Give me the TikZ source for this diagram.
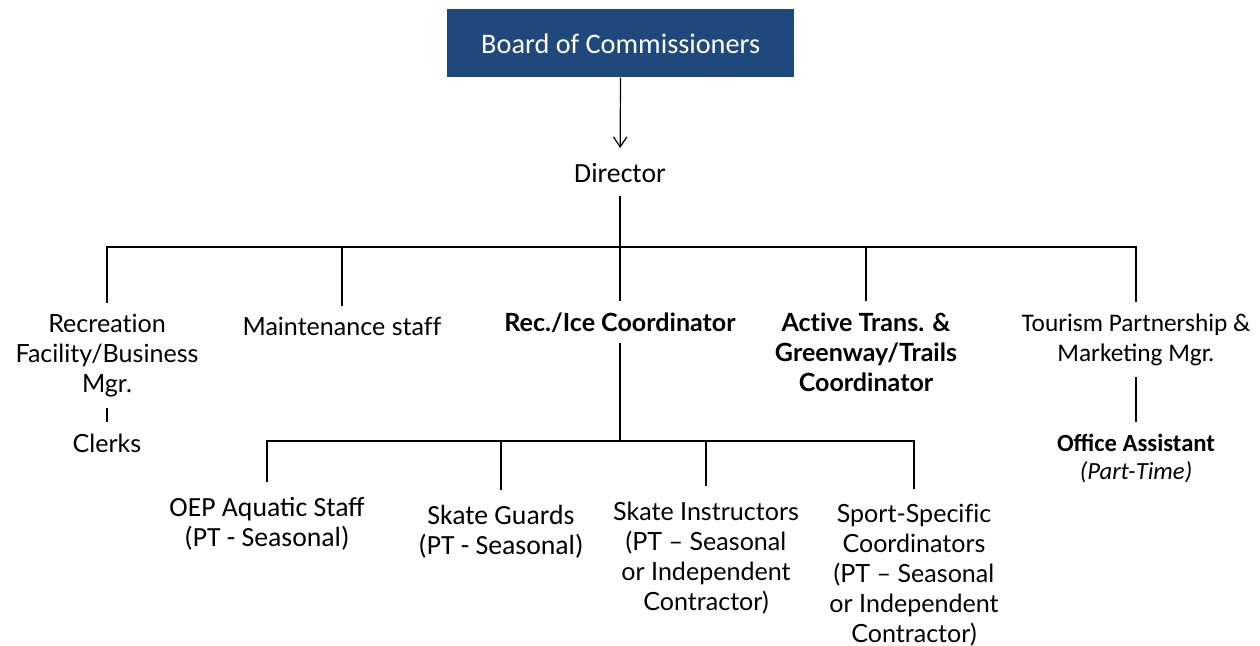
\documentclass[tikz,border=0pt]{standalone}
\usepackage{fontspec}
\setmainfont{Carlito}
\newfontfamily\latofont{Lato}[Ligatures=NoCommon]
\usetikzlibrary{arrows.meta}
\definecolor{boardblue}{RGB}{31,73,125}

\begin{document}
\begin{tikzpicture}[x=0.75pt, y=-0.75pt,
  link/.style={line width=1.6pt, line cap=rect},
  arrowlink/.style={line width=0.9pt, -{Straight Barb[length=7.5pt,width=10pt]}},
  boardbox/.style={fill=boardblue, text=white, minimum width=260pt, minimum height=51pt,
    inner sep=0pt, font=\fontsize{21.2}{24}\selectfont},
  role/.style={anchor=base, align=center, inner xsep=0pt, inner ysep=9pt,
    font=\latofont\fontsize{18.8}{22.5}\selectfont},
  boldrole/.style={role, font=\latofont\bfseries\fontsize{18.8}{22.5}\selectfont},
  crole/.style={role, font=\fontsize{20.8}{22}\selectfont},
  staff/.style={role, inner ysep=12pt},
  cstaff/.style={crole, inner ysep=12pt}]
\useasboundingbox (0,0) rectangle (1260,646);

% Top
\node[boardbox] (board) at (620.7,43.3) {Board of Commissioners};
\node[crole, inner ysep=11pt] (director) at (620,182) {Director};

% Direct reports (placed at the baseline of their last line)
\node[role] (recmgr) at (107,392) {Recreation\\Facility/Business\\Mgr.};
\node[role] (clerks) at (107,452) {Clerks};
\node[role] (maint) at (342,335) {Maintenance staff};
\node[boldrole] (recice) at (620,331) {Rec./Ice Coordinator};
\node[boldrole] (active) at (866,391) {Active Trans. \&\\Greenway/Trails\\Coordinator};
\node[role, font=\fontsize{19}{22.5}\selectfont] (tourism) at (1136,361)
  {Tourism Partnership \&\\Marketing Mgr.};
\node[role, font=\fontsize{18.5}{21}\selectfont] (office) at (1136,479)
  {\textbf{Office Assistant}\\\textit{(Part-Time)}};

% Rec./Ice staff
\node[cstaff] (oep) at (267,546) {OEP Aquatic Staff\\(PT - Seasonal)};
\node[cstaff] (guards) at (501,554) {Skate Guards\\(PT - Seasonal)};
\node[staff] (instr) at (706,610) {Skate Instructors\\(PT – Seasonal\\or Independent\\Contractor)};
\node[staff] (sport) at (914,642)
  {Sport-Specific\\Coordinators\\(PT – Seasonal\\or Independent\\Contractor)};

% Lines
\coordinate (mainbar) at (620,247);
\coordinate (icebar) at (620,441);
\draw[arrowlink] (board) -- (director);
\draw[link] (director) -- (mainbar);
\draw[link] (mainbar -| recmgr) -- (mainbar -| tourism);
\foreach \n in {recmgr,maint,recice,active,tourism}
  \draw[link] (mainbar -| \n) -- (\n);
\draw[link] (recmgr) -- (clerks);
\draw[link] (tourism) -- (office);
\draw[link] (recice) -- (icebar);
\draw[link] (icebar -| oep) -- (icebar -| sport);
\foreach \n in {oep,guards,instr,sport}
  \draw[link] (icebar -| \n) -- (\n);
\end{tikzpicture}
\end{document}
